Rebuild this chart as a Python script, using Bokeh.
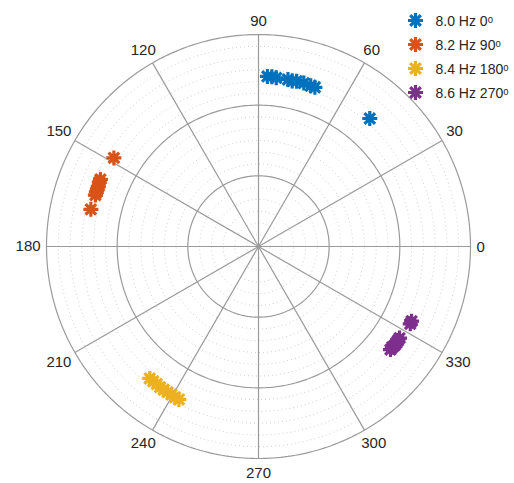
import numpy as np
from bokeh.plotting import figure
from bokeh.models import ColumnDataSource, Range1d
from bokeh.core.properties import value
from bokeh.embed import file_html
from bokeh.resources import INLINE

# ---- data (degrees, radius) ----
blue_theta = [87, 85.5, 84, 80, 78.5, 77, 74.5, 72, 70.5, 49]
blue_r = [2.41, 2.41, 2.40, 2.40, 2.39, 2.40, 2.40, 2.39, 2.39, 2.40]
orange_theta = [148.5, 157, 158, 159.5, 160.5, 161.5, 162.5, 167.5]
orange_r = [2.40, 2.43, 2.43, 2.42, 2.42, 2.42, 2.42, 2.43]
yellow_theta = [230.5, 232, 233.5, 235, 236.5, 238, 239.5, 241, 242.5]
yellow_r = [2.42, 2.42, 2.42, 2.43, 2.43, 2.43, 2.43, 2.44, 2.44]
purple_theta = [334, 333, 327, 326, 325, 324, 323, 322]
purple_r = [2.41, 2.41, 2.38, 2.38, 2.38, 2.38, 2.37, 2.37]
series_labels = ["8.0 Hz 0ᵒ", "8.2 Hz 90ᵒ", "8.4 Hz 180ᵒ", "8.6 Hz 270ᵒ"]
series_colors = ["#0072BD", "#D95319", "#EDB120", "#7E2F8E"]

r_max = 3.0
major_rings = [1.0, 2.0, 3.0]
minor_step = 1.0 / 6
angle_ticks = list(range(0, 360, 30))

# ---- layout ----
W, H = 510, 481
cx, cy = 258, 246          # pixel position of centre inside figure
R_px = 212.0
s = r_max / R_px
p = figure(width=W, height=H, output_backend="svg", toolbar_location=None,
           x_range=Range1d(-cx * s, (W - cx) * s), y_range=Range1d(-(H - cy) * s, cy * s),
           min_border=0, background_fill_color="white", border_fill_color="white")
p.axis.visible = False
p.grid.visible = False
p.outline_line_color = None

phi = np.linspace(0, 2 * np.pi, 361)
# minor dotted rings
minor = [k * minor_step for k in range(1, int(round(r_max / minor_step)))]
minor = [m for m in minor if all(abs(m - M) > 1e-6 for M in major_rings)]
p.multi_line(xs=[list(m * np.cos(phi)) for m in minor], ys=[list(m * np.sin(phi)) for m in minor],
             line_color="#cfcfcf", line_width=1, line_dash="1 3")
# spokes
p.multi_line(xs=[[0, r_max * np.cos(np.radians(a))] for a in angle_ticks],
             ys=[[0, r_max * np.sin(np.radians(a))] for a in angle_ticks],
             line_color="#9a9a9a", line_width=1.2)
# major rings
p.multi_line(xs=[list(m * np.cos(phi)) for m in major_rings], ys=[list(m * np.sin(phi)) for m in major_rings],
             line_color="#9a9a9a", line_width=1.2)

# angle labels
rad = np.radians(angle_ticks)
lab = [str(a) for a in angle_ticks]
wpx = [8.3 * len(t) for t in lab]
gap = 6 * s
lsrc = ColumnDataSource(dict(
    x=list((r_max + gap) * np.cos(rad)), y=list((r_max + gap) * np.sin(rad)), text=lab,
    xo=[w / 2 * np.cos(a) for w, a in zip(wpx, rad)],
    yo=[-8 * np.sign(np.sin(a)) * abs(np.sin(a)) ** 0.35 for a in rad]))
p.text(x="x", y="y", text="text", x_offset="xo", y_offset="yo", source=lsrc,
       text_align="center", text_baseline="middle", text_font=value("Liberation Sans"),
       text_font_size="15px", text_color="#262626")

for th, rr, col in zip([blue_theta, orange_theta, yellow_theta, purple_theta],
                       [blue_r, orange_r, yellow_r, purple_r], series_colors):
    t = np.radians(th)
    rr = np.array(rr)
    p.scatter(x=list(rr * np.cos(t)), y=list(rr * np.sin(t)), marker="asterisk", size=15,
              line_color=col, line_width=3.2)

# legend (drawn at fixed screen positions, top right)
leg_px_x, leg_px_y0, leg_step = 415, 20, 24
leg_y = [(cy - (leg_px_y0 + i * leg_step)) * s for i in range(len(series_labels))]
p.scatter(x=[(leg_px_x - cx) * s] * len(series_labels), y=leg_y, marker="asterisk", size=15,
          line_color=series_colors, line_width=3.2)
p.text(x=[(leg_px_x + 20 - cx) * s] * len(series_labels), y=leg_y, text=series_labels,
       text_align="left", text_baseline="middle", text_font=value("Liberation Sans"),
       text_font_size="14px", text_color="#262626")

open("out.html", "w").write(file_html(p, INLINE))
